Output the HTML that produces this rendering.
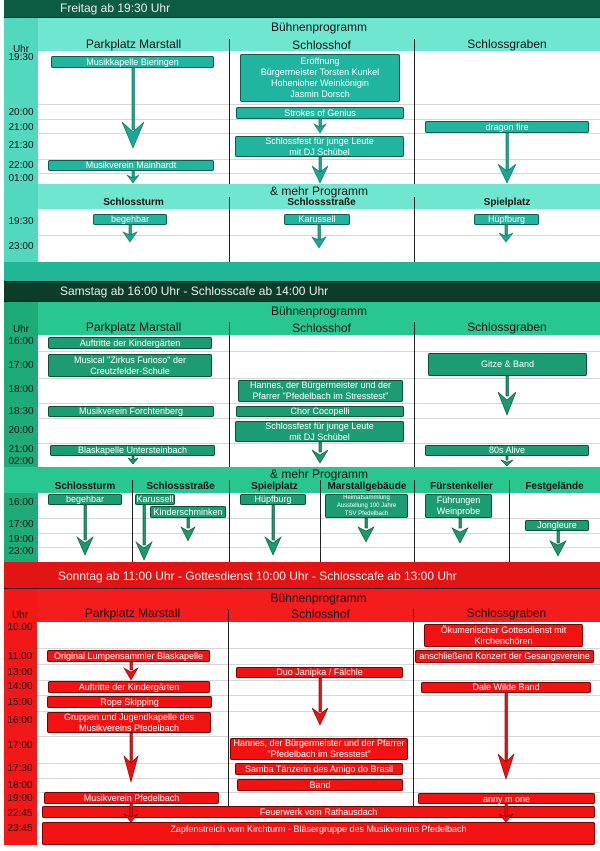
<!DOCTYPE html>
<html><head><meta charset="utf-8">
<style>
*{margin:0;padding:0;box-sizing:border-box}
body{width:600px;height:851px;background:#fff;position:relative;overflow:hidden;font-family:"Liberation Sans",sans-serif}
div{position:absolute}
.t{color:#111;font-size:10px;left:5px;width:32px;text-align:center;line-height:12px}
.h{color:#111;font-size:12px;text-align:center;line-height:14px}
.s{color:#111;font-size:10px;font-weight:bold;text-align:center;line-height:12px}
.b{color:#fff;font-size:9px;text-align:center;border-radius:2px;display:flex;align-items:center;justify-content:center;line-height:11px;white-space:nowrap}
.g1{background:#1fb59e;border:1px solid #0a5e50}
.g2{background:#1c9c72;border:1px solid #0b4f37}
.r{background:#f21212;border:1px solid #7a0000}
.hl{height:1px;background:#d6d6d6}
.vl{width:1px;background:#222}
svg{position:absolute;left:0;top:0}
</style></head><body>

<!-- FRIDAY -->
<div style="left:4px;top:0;width:596px;height:18px;background:#0c5b45;border-bottom:1px solid #022"></div>
<div style="left:60px;top:1px;color:#eee;font-size:12px;line-height:15px">Freitag ab 19:30 Uhr</div>
<div style="left:4px;top:18px;width:596px;height:33px;background:#6ee6d0"></div>
<div style="left:4px;top:18px;width:34px;height:166px;background:#52d8be"></div>
<div style="left:38px;top:51px;width:562px;height:133px;background:#fff"></div>
<div class="hl" style="left:38px;top:104px;width:562px"></div>
<div class="hl" style="left:38px;top:119px;width:562px"></div>
<div class="hl" style="left:38px;top:133px;width:562px"></div>
<div class="hl" style="left:38px;top:159px;width:562px"></div>
<div class="hl" style="left:38px;top:173px;width:562px"></div>
<div class="vl" style="left:229px;top:39px;height:145px"></div>
<div class="vl" style="left:414px;top:39px;height:145px"></div>
<div class="h" style="left:38px;top:20px;width:562px">Bühnenprogramm</div>
<div class="h" style="left:38px;top:37px;width:191px">Parkplatz Marstall</div>
<div class="h" style="left:229px;top:38px;width:185px">Schlosshof</div>
<div class="h" style="left:414px;top:37px;width:186px">Schlossgraben</div>
<div class="t" style="top:44px">Uhr</div>
<div class="t" style="top:52px">19:30</div>
<div class="t" style="top:107px">20:00</div>
<div class="t" style="top:122px">21:00</div>
<div class="t" style="top:140px">21:30</div>
<div class="t" style="top:160px">22:00</div>
<div class="t" style="top:173px">01:00</div>
<div class="b g1" style="left:51px;top:56px;width:163px;height:12px">Musikkapelle Bieringen</div>
<div class="b g1" style="left:240px;top:54px;width:160px;height:48px;white-space:normal">Eröffnung<br>Bürgermeister Torsten Kunkel<br>Hohenloher Weinkönigin<br>Jasmin Dorsch</div>
<div class="b g1" style="left:236px;top:107px;width:168px;height:12px">Strokes of Genius</div>
<div class="b g1" style="left:425px;top:121px;width:164px;height:12px">dragon fire</div>
<div class="b g1" style="left:235px;top:136px;width:169px;height:21px">Schlossfest für junge Leute<br>mit DJ Schübel</div>
<div class="b g1" style="left:48px;top:160px;width:166px;height:11px">Musikverein Mainhardt</div>
<div style="left:4px;top:184px;width:596px;height:25px;background:#6ee6d0"></div>
<div style="left:4px;top:184px;width:34px;height:78px;background:#52d8be"></div>
<div style="left:38px;top:209px;width:562px;height:53px;background:#fff"></div>
<div class="hl" style="left:38px;top:235px;width:562px"></div>
<div class="vl" style="left:229px;top:197px;height:65px"></div>
<div class="vl" style="left:414px;top:197px;height:65px"></div>
<div class="h" style="left:38px;top:184px;width:562px">&amp; mehr Programm</div>
<div class="s" style="left:38px;top:197px;width:191px">Schlossturm</div>
<div class="s" style="left:229px;top:197px;width:185px">Schlossstraße</div>
<div class="s" style="left:414px;top:197px;width:186px">Spielplatz</div>
<div class="t" style="top:216px">19:30</div>
<div class="t" style="top:241px">23:00</div>
<div class="b g1" style="left:93px;top:214px;width:74px;height:11px">begehbar</div>
<div class="b g1" style="left:284px;top:214px;width:66px;height:11px">Karussell</div>
<div class="b g1" style="left:474px;top:214px;width:65px;height:11px">Hüpfburg</div>
<div style="left:4px;top:262px;width:596px;height:19px;background:#1fb796"></div>

<!-- SATURDAY -->
<div style="left:4px;top:281px;width:596px;height:21px;background:#0b3d28;border-top:1px solid #000;border-bottom:1px solid #000"></div>
<div style="left:60px;top:284px;color:#eee;font-size:12px;line-height:15px">Samstag ab 16:00 Uhr - Schlosscafe ab 14:00 Uhr</div>
<div style="left:4px;top:302px;width:596px;height:33px;background:#28c690"></div>
<div style="left:4px;top:302px;width:34px;height:260px;background:#1dab7a"></div>
<div style="left:38px;top:335px;width:562px;height:132px;background:#fff"></div>
<div class="hl" style="left:38px;top:351px;width:562px"></div>
<div class="hl" style="left:38px;top:378px;width:562px"></div>
<div class="hl" style="left:38px;top:403px;width:562px"></div>
<div class="hl" style="left:38px;top:418px;width:562px"></div>
<div class="hl" style="left:38px;top:443px;width:562px"></div>
<div class="vl" style="left:229px;top:322px;height:145px"></div>
<div class="vl" style="left:414px;top:322px;height:145px"></div>
<div class="h" style="left:38px;top:304px;width:562px">Bühnenprogramm</div>
<div class="h" style="left:38px;top:320px;width:191px">Parkplatz Marstall</div>
<div class="h" style="left:229px;top:321px;width:185px">Schlosshof</div>
<div class="h" style="left:414px;top:320px;width:186px">Schlossgraben</div>
<div class="t" style="top:324px">Uhr</div>
<div class="t" style="top:336px">16:00</div>
<div class="t" style="top:360px">17:00</div>
<div class="t" style="top:384px">18:00</div>
<div class="t" style="top:406px">18:30</div>
<div class="t" style="top:425px">20:00</div>
<div class="t" style="top:444px">21:00</div>
<div class="t" style="top:456px">02:00</div>
<div class="b g2" style="left:48px;top:337px;width:164px;height:12px">Auftritte der Kindergärten</div>
<div class="b g2" style="left:48px;top:354px;width:164px;height:23px">Musical "Zirkus Furioso" der<br>Creutzfelder-Schule</div>
<div class="b g2" style="left:428px;top:353px;width:159px;height:23px">Gitze &amp; Band</div>
<div class="b g2" style="left:238px;top:380px;width:165px;height:22px">Hannes, der Bürgermeister und der<br>Pfarrer "Pfedelbach im Stresstest"</div>
<div class="b g2" style="left:48px;top:406px;width:166px;height:11px">Musikverein Forchtenberg</div>
<div class="b g2" style="left:236px;top:406px;width:168px;height:11px">Chor Cocopelli</div>
<div class="b g2" style="left:235px;top:421px;width:169px;height:21px">Schlossfest für junge Leute<br>mit DJ Schübel</div>
<div class="b g2" style="left:50px;top:445px;width:165px;height:11px">Blaskapelle Untersteinbach</div>
<div class="b g2" style="left:425px;top:445px;width:164px;height:11px">80s Alive</div>
<div style="left:4px;top:467px;width:596px;height:26px;background:#28c690"></div>
<div style="left:38px;top:493px;width:562px;height:69px;background:#fff"></div>
<div class="hl" style="left:38px;top:518px;width:562px"></div>
<div class="hl" style="left:38px;top:533px;width:562px"></div>
<div class="hl" style="left:38px;top:547px;width:562px"></div>
<div class="vl" style="left:132px;top:480px;height:82px"></div>
<div class="vl" style="left:229px;top:480px;height:82px"></div>
<div class="vl" style="left:320px;top:480px;height:82px"></div>
<div class="vl" style="left:414px;top:480px;height:82px"></div>
<div class="vl" style="left:509px;top:480px;height:82px"></div>
<div class="h" style="left:38px;top:467px;width:562px">&amp; mehr Programm</div>
<div class="s" style="left:38px;top:481px;width:94px">Schlossturm</div>
<div class="s" style="left:132px;top:481px;width:97px">Schlossstraße</div>
<div class="s" style="left:229px;top:481px;width:91px">Spielplatz</div>
<div class="s" style="left:320px;top:481px;width:94px">Marstallgebäude</div>
<div class="s" style="left:414px;top:481px;width:95px">Fürstenkeller</div>
<div class="s" style="left:509px;top:481px;width:91px">Festgelände</div>
<div class="t" style="top:497px">16:00</div>
<div class="t" style="top:519px">17:00</div>
<div class="t" style="top:534px">19:00</div>
<div class="t" style="top:546px">23:00</div>
<div class="b g2" style="left:48px;top:494px;width:74px;height:11px">begehbar</div>
<div class="b g2" style="left:135px;top:494px;width:40px;height:11px">Karussell</div>
<div class="b g2" style="left:150px;top:506px;width:76px;height:12px">Kinderschminken</div>
<div class="b g2" style="left:240px;top:494px;width:66px;height:11px">Hüpfburg</div>
<div class="b g2" style="left:325px;top:494px;width:83px;height:24px;font-size:6px;line-height:8px">Heimatsammlung<br>Ausstellung 100 Jahre<br>TSV Pfedelbach</div>
<div class="b g2" style="left:425px;top:494px;width:67px;height:24px">Führungen<br>Weinprobe</div>
<div class="b g2" style="left:525px;top:520px;width:64px;height:11px">Jongleure</div>

<!-- SUNDAY -->
<div style="left:4px;top:562px;width:596px;height:27px;background:#e21414;border-bottom:1px solid #300"></div>
<div style="left:58px;top:569px;color:#f4f4f4;font-size:12px;line-height:15px">Sonntag ab 11:00 Uhr - Gottesdienst 10:00 Uhr - Schlosscafe ab 13:00 Uhr</div>
<div style="left:4px;top:589px;width:596px;height:33px;background:#f41c1c"></div>
<div style="left:4px;top:589px;width:33px;height:256px;background:#f21818"></div>
<div style="left:37px;top:622px;width:563px;height:229px;background:#fff"></div>
<div class="hl" style="left:37px;top:648px;width:563px"></div>
<div class="hl" style="left:37px;top:664px;width:563px"></div>
<div class="hl" style="left:37px;top:680px;width:563px"></div>
<div class="hl" style="left:37px;top:695px;width:563px"></div>
<div class="hl" style="left:37px;top:711px;width:563px"></div>
<div class="hl" style="left:37px;top:736px;width:563px"></div>
<div class="hl" style="left:37px;top:763px;width:563px"></div>
<div class="hl" style="left:37px;top:778px;width:563px"></div>
<div class="hl" style="left:37px;top:792px;width:563px"></div>
<div class="vl" style="left:228px;top:609px;height:200px"></div>
<div class="vl" style="left:413px;top:609px;height:200px"></div>
<div class="h" style="left:37px;top:591px;width:563px">Bühnenprogramm</div>
<div class="h" style="left:37px;top:606px;width:191px">Parkplatz Marstall</div>
<div class="h" style="left:228px;top:607px;width:185px">Schlosshof</div>
<div class="h" style="left:413px;top:606px;width:187px">Schlossgraben</div>
<div class="t" style="top:610px;left:4px">Uhr</div>
<div class="t" style="top:622px;left:4px">10.00</div>
<div class="t" style="top:651px;left:4px">11:00</div>
<div class="t" style="top:667px;left:4px">13:00</div>
<div class="t" style="top:681px;left:4px">14:00</div>
<div class="t" style="top:697px;left:4px">15:00</div>
<div class="t" style="top:715px;left:4px">16:00</div>
<div class="t" style="top:740px;left:4px">17:00</div>
<div class="t" style="top:763px;left:4px">17:30</div>
<div class="t" style="top:780px;left:4px">18:00</div>
<div class="t" style="top:793px;left:4px">19:00</div>
<div class="t" style="top:808px;left:4px">22:45</div>
<div class="t" style="top:823px;left:4px">23:45</div>
<div class="b r" style="left:424px;top:624px;width:159px;height:23px">Ökumenischer Gottesdienst mit<br>Kirchenchören</div>
<div class="b r" style="left:47px;top:650px;width:163px;height:12px">Original Lumpensammler Blaskapelle</div>
<div class="b r" style="left:415px;top:650px;width:179px;height:13px">anschließend Konzert der Gesangsvereine</div>
<div class="b r" style="left:236px;top:667px;width:167px;height:11px">Duo Janipka / Fälchle</div>
<div class="b r" style="left:48px;top:681px;width:162px;height:12px">Auftritte der Kindergärten</div>
<div class="b r" style="left:421px;top:682px;width:170px;height:11px">Dale Wilde Band</div>
<div class="b r" style="left:47px;top:696px;width:165px;height:12px">Rope Skipping</div>
<div class="b r" style="left:47px;top:712px;width:164px;height:21px">Gruppen und Jugendkapelle des<br>Musikvereins Pfedelbach</div>
<div class="b r" style="left:230px;top:738px;width:178px;height:22px">Hannes, der Bürgermeister und der Pfarrer<br>"Pfedelbach im Sresstest"</div>
<div class="b r" style="left:235px;top:763px;width:168px;height:12px">Samba Tänzerin des Amigo do Brasil</div>
<div class="b r" style="left:237px;top:779px;width:166px;height:12px">Band</div>
<div class="b r" style="left:44px;top:792px;width:175px;height:12px">Musikverein Pfedelbach</div>
<div class="b r" style="left:418px;top:793px;width:177px;height:11px;align-items:flex-start">anny m one</div>
<div class="b r" style="left:42px;top:806px;width:553px;height:12px">Feuerwerk vom Rathausdach</div>
<div class="b r" style="left:42px;top:822px;width:553px;height:23px;align-items:flex-start;padding-top:1px">Zapfenstreich vom Kirchturm - Bläsergruppe des Musikvereins Pfedelbach</div>

<svg width="600" height="851" viewBox="0 0 600 851">
<g fill="#1aa892" stroke="#0d6b5a" stroke-width="0.6">
<rect x="132" y="68" width="2.5" height="62"/><polygon points="122,122 133,148 144,122 133,132"/>
<rect x="319" y="118" width="2.5" height="8"/><polygon points="314,124 320,133 326,124 320,127"/>
<rect x="319" y="157" width="2.5" height="14"/><polygon points="312,166 320,183 328,166 320,172"/>
<rect x="506" y="133" width="2.5" height="38"/><polygon points="498,164 507,183 516,164 507,171"/>
<rect x="132" y="171" width="2.5" height="7"/><polygon points="127,175 133,183 139,175 133,178"/>
<rect x="129" y="225" width="2.5" height="10"/><polygon points="123,232 130,242 137,232 130,235"/>
<rect x="318" y="225" width="2.5" height="14"/><polygon points="312,237 319,248 326,237 319,240"/>
<rect x="505" y="225" width="2.5" height="10"/><polygon points="499,233 506,242 513,233 506,236"/>
</g>
<g fill="#189a6a" stroke="#0b4f37" stroke-width="0.6">
<rect x="506" y="376" width="2.5" height="20"/><polygon points="498,392 507,415 516,392 507,400"/>
<rect x="319" y="442" width="2.5" height="10"/><polygon points="312,450 320,463 328,450 320,455"/>
<rect x="132" y="456" width="2" height="3"/><polygon points="128,458 133,464 138,458 133,460"/>
<rect x="506" y="456" width="2" height="4"/><polygon points="501,460 507,466 513,460 507,462"/>
<rect x="84" y="505" width="2.5" height="35"/><polygon points="77,537 85,555 93,537 85,543"/>
<rect x="143" y="505" width="2.5" height="40"/><polygon points="136,542 144,560 152,542 144,548"/>
<rect x="187" y="518" width="2.5" height="10"/><polygon points="181,527 188,541 195,527 188,531"/>
<rect x="272" y="505" width="2.5" height="35"/><polygon points="265,537 273,555 281,537 273,543"/>
<rect x="365" y="518" width="2.5" height="10"/><polygon points="358,527 366,542 374,527 366,531"/>
<rect x="459" y="518" width="2.5" height="10"/><polygon points="452,528 460,543 468,528 460,532"/>
<rect x="557" y="531" width="2.5" height="12"/><polygon points="550,541 558,556 566,541 558,545"/>
</g>
<g fill="#ee1111" stroke="#7a0000" stroke-width="0.6">
<rect x="130" y="662" width="2.5" height="8"/><polygon points="124,668 131,680 138,668 131,672"/>
<rect x="130" y="733" width="2.5" height="30"/><polygon points="124,756 131,782 138,756 131,763"/>
<rect x="319" y="678" width="2.5" height="34"/><polygon points="312,708 320,725 328,708 320,714"/>
<rect x="505" y="693" width="2.5" height="70"/><polygon points="498,754 506,779 514,754 506,762"/>
<rect x="130" y="804" width="2.5" height="12"/><polygon points="124,814 131,822 138,814 131,817"/>
<rect x="505" y="804" width="2.5" height="12"/><polygon points="499,814 506,822 513,814 506,817"/>
</g>
</svg>
</body></html>
